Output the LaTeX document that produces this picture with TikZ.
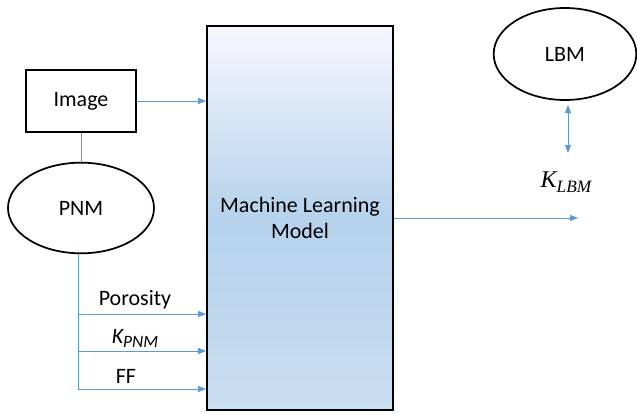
\documentclass[tikz,border=0pt]{standalone}
\usepackage{fontspec}
\setmainfont{Carlito}
\newfontfamily\timesfont{Liberation Serif}
\usetikzlibrary{arrows.meta,shapes.geometric,positioning}
\definecolor{linkblue}{HTML}{5B9BD5}

\begin{document}
\begin{tikzpicture}[x=0.75pt,y=-0.75pt,font=\fontsize{16.5}{20}\selectfont,
    >={Triangle[length=6pt,width=4.5pt]},
    block/.style={draw,line width=1.3pt},
    blob/.style={ellipse,draw,line width=1.3pt},
    link/.style={draw=linkblue,line width=0.7pt}]
    \useasboundingbox (0,0) rectangle (637,414);
    % inputs and model
    \node[block,minimum width=82pt,minimum height=46.5pt] (img) at (81,101) {Image};
    \node[blob,minimum width=109.5pt,minimum height=68pt] (pnm) at (81,208) {PNM};
    \node[block,minimum width=139.5pt,minimum height=288pt,align=center,
          top color=blue!3!white,bottom color=linkblue!33!white,middle color=linkblue!45!white]
          (ml) at (300,218) {Machine Learning\\Model};
    \node[blob,minimum width=107pt,minimum height=69pt] (lbm) at (565,54) {LBM};
    % labels
    \node (por) at (135,300) {Porosity};
    \node (kpnm) at (135,338) {\itshape K\raisebox{-3pt}{\fontsize{13}{15}\selectfont PNM}};
    \node (ff) at (126,376) {FF};
    \node (klbm) at (566,182) {\timesfont\itshape\fontsize{18}{20}\selectfont K\raisebox{-3.5pt}{\fontsize{13}{15}\selectfont LBM}};
    \coordinate (c1) at (78,314);
    \coordinate (c2) at (78,351);
    \coordinate (c3) at (78,389);
    \coordinate (out) at (578,218);
    \coordinate (top) at (568,105);
    \coordinate (bot) at (568,153);
    % connectors
    \draw[link,->] (img.east) -- (ml.west |- img.east);
    \draw[link] (img.south) -- (pnm.north);
    \draw[link] (c3 |- pnm.south) -- (c3);
    \draw[link,->] (c1) -- (ml.west |- c1);
    \draw[link,->] (c2) -- (ml.west |- c2);
    \draw[link,->] (c3) -- (ml.west |- c3);
    \draw[link,->] (ml.east |- out) -- (out);
    \draw[link,<->] (top) -- (bot);
\end{tikzpicture}
\end{document}
